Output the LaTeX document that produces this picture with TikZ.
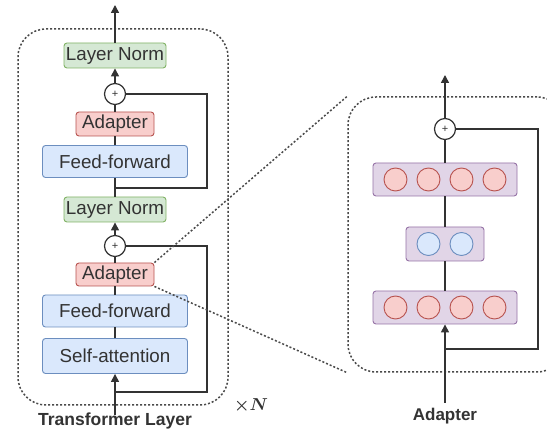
\documentclass[tikz,border=0pt]{standalone}
\usepackage{bm}
\usepackage{fontspec}
\newfontfamily\lsans{Liberation Sans}
\usetikzlibrary{arrows.meta}
\definecolor{ink}{HTML}{333333}
\definecolor{fgray}{HTML}{4A4A4A}
\definecolor{gfill}{HTML}{D5E8D4}\definecolor{gline}{HTML}{82B366}
\definecolor{rfill}{HTML}{F8CECC}\definecolor{rline}{HTML}{B85450}
\definecolor{bfill}{HTML}{DAE8FC}\definecolor{bline}{HTML}{6C8EBF}
\definecolor{pfill}{HTML}{E1D5E7}\definecolor{pline}{HTML}{9673A6}
\begin{document}
\begin{tikzpicture}[x=1pt,y=-1pt,
  block/.style={draw, rounded corners=3pt, line width=0.9pt, text=ink, inner sep=0pt,
    font=\lsans\fontsize{18.8}{20}\selectfont},
  normbox/.style={block, fill=gfill, draw=gline, minimum width=102pt, minimum height=25pt},
  adaptbox/.style={block, fill=rfill, draw=rline, minimum width=78pt, minimum height=24pt},
  ffbox/.style={block, fill=bfill, draw=bline, minimum width=145pt, minimum height=32pt},
  sumnode/.style={circle, draw=ink, fill=white, line width=1.2pt, minimum size=21pt,
    inner sep=0pt, text=ink, font=\lsans\fontsize{11}{11}\selectfont},
  flow/.style={draw=ink, line width=1.5pt},
  arr/.style={flow, -{Triangle[length=8pt,width=8pt]}},
  frame/.style={draw=fgray, line width=1.5pt, dash pattern=on 2pt off 2pt,
    rounded corners=28pt, inner sep=0pt},
  link/.style={draw=fgray, line width=1.5pt, dash pattern=on 2pt off 2pt},
  layerbox/.style={draw=pline, fill=pfill, rounded corners=3pt, line width=0.9pt,
    minimum height=33pt, inner sep=0pt},
  unitr/.style={circle, draw=rline, fill=rfill, line width=0.9pt, minimum size=23pt, inner sep=0pt},
  unitb/.style={circle, draw=bline, fill=bfill, line width=0.9pt, minimum size=23pt, inner sep=0pt},
  caption/.style={text=ink, font=\lsans\bfseries\fontsize{17.5}{20}\selectfont, inner sep=0pt}]

\clip (0,0) rectangle (547,430);
\fill[white] (0,0) rectangle (547,430);

% ---------- dashed frames ----------
\node[frame, minimum width=210pt, minimum height=376pt] (tframe) at (123,217) {};
\node[frame, minimum width=217pt, minimum height=275pt] (aframe) at (456.5,234.5) {};

% ---------- transformer layer ----------
\node[normbox] (ln1) at (115,55.5) {Layer Norm};
\node[sumnode] (p1) at (115,94) {+};
\node[adaptbox] (ad1) at (115,124) {Adapter};
\node[ffbox] (ff1) at (115,161.5) {Feed-forward};
\node[normbox] (ln2) at (115,209.5) {Layer Norm};
\node[sumnode] (p2) at (115,246) {+};
\node[adaptbox, minimum height=23pt] (ad2) at (115,274.5) {Adapter};
\node[ffbox] (ff2) at (115,311) {Feed-forward};
\node[ffbox, minimum height=35pt] (sa) at (115,356) {Self-attention};

\coordinate (tin) at (115,415);
\coordinate (tout) at (115,5);
\coordinate (r1) at (115,188);
\coordinate (rc1) at (207,188);
\coordinate (r2) at (115,392);
\coordinate (rc2) at (207,392);

\draw[arr] (tin) -- (sa);
\draw[flow] (sa) -- (ff2);
\draw[flow] (ff2) -- (ad2);
\draw[flow] (ad2) -- (p2);
\draw[arr] (p2) -- (ln2);
\draw[flow] (ln2) -- (ff1);
\draw[flow] (ff1) -- (ad1);
\draw[flow] (ad1) -- (p1);
\draw[arr] (p1) -- (ln1);
\draw[arr] (ln1) -- (tout);
\draw[flow] (p1.east) -| (rc1) -- (r1);
\draw[flow] (p2.east) -| (rc2) -- (r2);

\node[caption] (tcap) at (115,421) {Transformer Layer};
\node[text=ink, inner sep=0pt, font=\fontsize{17}{20}\selectfont] (times) at (251,406) {$\bm{\times N}$};

% ---------- adapter detail ----------
\node[sumnode] (p3) at (445,129) {+};
\node[layerbox, minimum width=144pt] (up) at (445,179.5) {};
\node[layerbox, minimum width=78pt, minimum height=34pt] (mid) at (445,244) {};
\node[layerbox, minimum width=144pt] (down) at (445,307.5) {};

\foreach \i/\dx in {1/-49.5,2/-16.5,3/16.5,4/49.5}{
  \node[unitr] (u\i) at (445+\dx,179.5) {};
  \node[unitr] (d\i) at (445+\dx,307.5) {};
}
\node[unitb] (m1) at (428.5,244) {};
\node[unitb] (m2) at (461.5,244) {};

\coordinate (ain) at (445,403);
\coordinate (aout) at (445,75);
\coordinate (r3) at (445,349);
\coordinate (rc3) at (538,349);

\draw[arr] (ain) -- (down);
\draw[flow] (down) -- (mid);
\draw[flow] (mid) -- (up);
\draw[flow] (up) -- (p3);
\draw[arr] (p3) -- (aout);
\draw[flow] (p3.east) -| (rc3) -- (r3);

\node[caption, font=\lsans\bfseries\fontsize{17}{20}\selectfont] (acap) at (445,416) {Adapter};

% ---------- zoom links ----------
\draw[link] (ad2.north east) -- (aframe.north west);
\draw[link] (ad2.south east) -- (aframe.south west);
\end{tikzpicture}
\end{document}
